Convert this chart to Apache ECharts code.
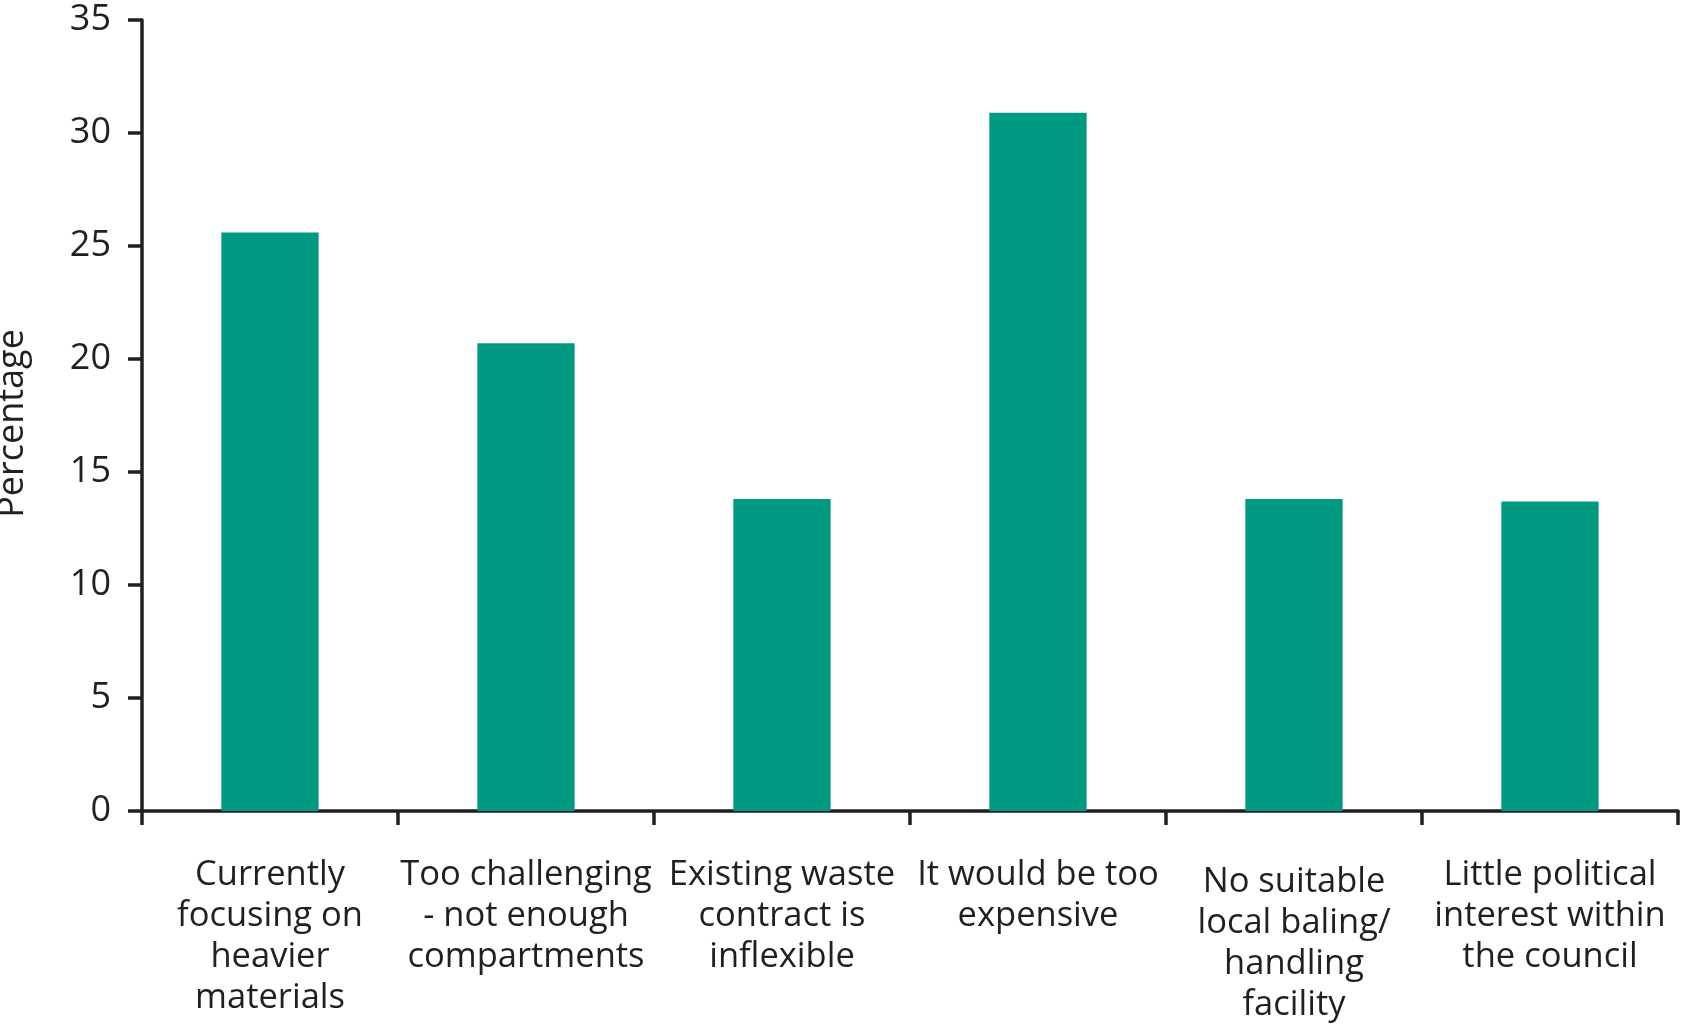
<!DOCTYPE html>
<html>
<head>
<meta charset="utf-8">
<script src="https://cdn.jsdelivr.net/npm/echarts@6/dist/echarts.min.js"></script>
<style>
html,body{margin:0;padding:0;background:#fff;}
#chart{width:1681px;height:1024px;}
</style>
</head>
<body>
<div id="chart"></div>
<script>
const categories = [
  "Currently\nfocusing on\nheavier\nmaterials",
  "Too challenging\n- not enough\ncompartments",
  "Existing waste\ncontract is\ninflexible",
  "It would be too\nexpensive",
  "No suitable\nlocal baling/\nhandling\nfacility",
  "Little political\ninterest within\nthe council"
];
const percentages = [25.6, 20.7, 13.8, 30.9, 13.8, 13.7];
const yTicks = [0, 5, 10, 15, 20, 25, 30, 35];

const axisColor = '#231f20';
const fontFamily = '"Open Sans", "Noto Sans", sans-serif';

const categoryData = categories.map((c, i) => i === 4
  ? { value: c, textStyle: { padding: [7, 0, 0, 0] } }
  : c);

const chart = echarts.init(document.getElementById('chart'));
chart.setOption({
  animation: false,
  grid: { left: 142, right: 3, top: 20, bottom: 213, containLabel: false, outerBoundsMode: 'none' },
  xAxis: {
    type: 'category',
    data: categoryData,
    axisLine: { lineStyle: { color: axisColor, width: 3.5 } },
    axisTick: { show: true, length: 14, lineStyle: { color: axisColor, width: 3.5 } },
    axisLabel: {
      interval: 0,
      color: axisColor,
      fontFamily: fontFamily,
      fontSize: 34.5,
      lineHeight: 41,
      margin: 44,
      align: 'center'
    }
  },
  yAxis: {
    type: 'value',
    min: 0,
    max: 35,
    interval: 5,
    name: 'Percentage',
    nameLocation: 'middle',
    nameGap: 111,
    nameTextStyle: { color: axisColor, fontFamily: fontFamily, fontSize: 36, padding: [0, 16, 0, 0] },
    axisLine: { show: true, lineStyle: { color: axisColor, width: 3.5 } },
    axisTick: { show: true, length: 14, lineStyle: { color: axisColor, width: 3.5 } },
    splitLine: { show: false },
    axisLabel: {
      color: axisColor,
      fontFamily: fontFamily,
      fontSize: 36,
      margin: 31,
      formatter: v => yTicks.includes(v) ? String(v) : ''
    }
  },
  series: [{
    type: 'bar',
    data: percentages,
    barWidth: '38%',
    itemStyle: { color: '#009a82' }
  }]
});
</script>
</body>
</html>
